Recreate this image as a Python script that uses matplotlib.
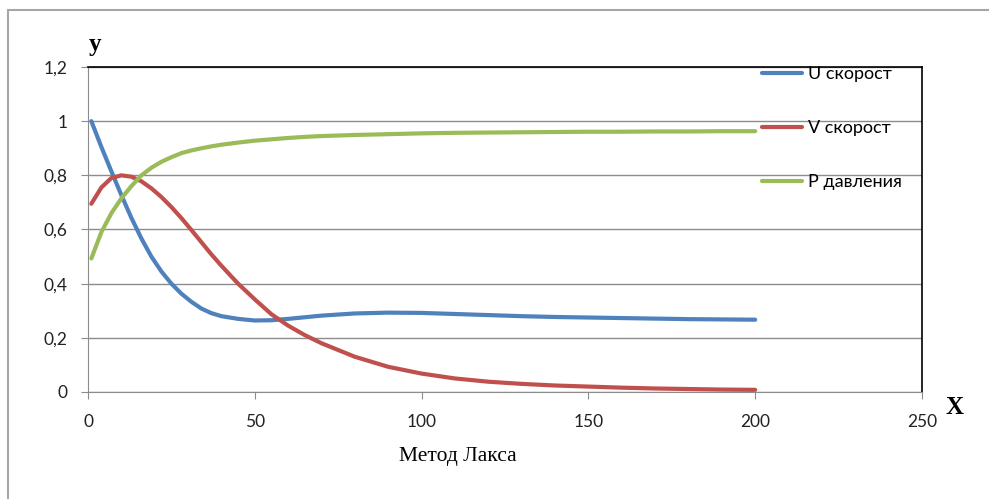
import matplotlib
matplotlib.use('Agg')
import matplotlib.pyplot as plt
from matplotlib.patches import Rectangle
from matplotlib.ticker import FuncFormatter

# values
x = [1, 4, 7, 10, 13, 16, 19, 22, 25, 28, 31, 34, 37, 40, 45, 50, 55, 60, 65,
     70, 80, 90, 100, 110, 120, 130, 140, 150, 160, 170, 180, 190, 200]
u_speed = [1.0, 0.905, 0.815, 0.727, 0.643, 0.567, 0.50, 0.445, 0.40, 0.363,
           0.333, 0.308, 0.291, 0.28, 0.27, 0.264, 0.265, 0.27, 0.276, 0.282,
           0.29, 0.293, 0.292, 0.288, 0.284, 0.28, 0.277, 0.275, 0.273, 0.271,
           0.269, 0.268, 0.267]
v_speed = [0.695, 0.755, 0.79, 0.80, 0.795, 0.778, 0.752, 0.72, 0.683, 0.642,
           0.598, 0.553, 0.508, 0.466, 0.40, 0.342, 0.287, 0.245, 0.21, 0.18,
           0.13, 0.093, 0.068, 0.05, 0.038, 0.03, 0.024, 0.02, 0.016, 0.013,
           0.011, 0.009, 0.008]
p_press = [0.493, 0.59, 0.66, 0.715, 0.76, 0.80, 0.828, 0.85, 0.867, 0.882,
           0.892, 0.90, 0.907, 0.913, 0.921, 0.928, 0.933, 0.938, 0.942, 0.945,
           0.949, 0.952, 0.955, 0.957, 0.958, 0.959, 0.96, 0.961, 0.961, 0.962,
           0.962, 0.963, 0.963]
labels = ['U скорост', 'V скорост', 'P давления']
colors = ['#4F81BD', '#C0504D', '#9BBB59']

fig = plt.figure(figsize=(9.89, 4.99), dpi=100)
ax = fig.add_axes([88 / 989, 1 - 392 / 499, (922 - 88) / 989, (392 - 67) / 499])

for ys, lab, c in zip([u_speed, v_speed, p_press], labels, colors):
    ax.plot(x, ys, color=c, lw=3, label=lab, solid_capstyle='round',
            solid_joinstyle='round')

ax.set_xlim(0, 250)
ax.set_ylim(0, 1.2)
ax.set_xticks([0, 50, 100, 150, 200, 250])
ax.set_yticks([0, 0.2, 0.4, 0.6, 0.8, 1.0, 1.2])
ax.yaxis.set_major_formatter(FuncFormatter(lambda v, p: ('%g' % round(v, 1)).replace('.', ',')))
ax.grid(axis='y', color='#8c8c8c', lw=1)
ax.set_axisbelow(True)

for s in ['left', 'bottom']:
    ax.spines[s].set_color('#8c8c8c')
for s in ['top', 'right']:
    ax.spines[s].set_color('black')
    ax.spines[s].set_linewidth(1.2)

ax.tick_params(axis='both', direction='out', length=5, color='#8c8c8c',
               labelsize=12.5, labelcolor='#222222')
ax.tick_params(axis='x', pad=11)
ax.tick_params(axis='y', pad=10)
for t in ax.get_xticklabels() + ax.get_yticklabels():
    t.set_fontfamily('Lato')

leg = ax.legend(loc='upper left', bbox_to_anchor=(0.7998, 1.0246), frameon=False,
                prop={'family': 'Lato', 'size': 13}, handlelength=2.2,
                handletextpad=0.33, labelspacing=2.1, borderaxespad=0)

fig.text(95 / 989, 1 - 45 / 499, 'y', family='Liberation Serif', weight='bold',
         fontsize=18, ha='center', va='center')
fig.text(955 / 989, 1 - 408 / 499, 'X', family='Liberation Serif', weight='bold',
         fontsize=18, ha='center', va='center')
fig.text(458 / 989, 1 - 457 / 499, 'Метод Лакса', family='Liberation Serif',
         fontsize=15.5, ha='center', va='center')

# outer chart frame
fig.patches.append(Rectangle((8 / 989, -0.1), 1.2, 1 - 10 / 499 + 0.1,
                             transform=fig.transFigure, fill=False,
                             edgecolor='#a6a6a6', lw=1.5))

fig.savefig('out.png', dpi=100)
